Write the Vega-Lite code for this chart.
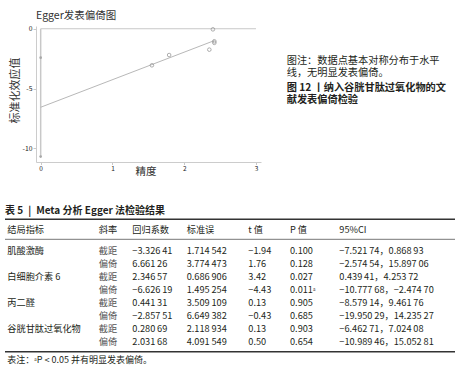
{
  "$schema": "https://vega.github.io/schema/vega-lite/v6.json",
  "width": 460,
  "height": 374,
  "padding": 0,
  "autosize": {"type": "none"},
  "background": "white",
  "config": {"view": {"stroke": null}, "font": "Noto Sans CJK SC", "text": {"font": "Noto Sans CJK SC"}},
  "layer": [
    {
      "encoding": {
        "x": {"field": "x", "type": "quantitative",
          "scale": {"domain": [-0.065, 3.07], "range": [36, 261], "nice": false, "zero": false},
          "axis": {"orient": "bottom", "offset": -212, "values": [0, 1, 2, 3], "grid": false,
            "domainColor": "#cccccc", "domainWidth": 1, "tickColor": "#bbbbbb", "tickSize": 2.5, "tickWidth": 0.8,
            "labelFontSize": 6.5, "labelColor": "#222222", "labelPadding": 0.5, "labelExpr": "'' + datum.value",
            "title": "精度", "titleFontSize": 10.5, "titleFontWeight": "normal", "titleColor": "#333333",
            "titleX": 145.5, "titleY": 9.7, "titleBaseline": "middle", "titleAlign": "center"}},
        "y": {"field": "y", "type": "quantitative",
          "scale": {"domain": [-11.15, 0.23], "range": [162, 26], "nice": false, "zero": false},
          "axis": {"orient": "left", "offset": -36, "values": [0, -5, -10], "grid": false, "labelOverlap": false, "labelBound": false,
            "domainColor": "#cccccc", "domainWidth": 1, "tickColor": "#bbbbbb", "tickSize": 3, "tickWidth": 0.8,
            "labelFontSize": 6.8, "labelColor": "#222222", "labelPadding": 1, "labelExpr": "'' + datum.value",
            "title": "标准化效应值", "titleFontSize": 11, "titleFontWeight": "normal", "titleColor": "#333333",
            "titleAngle": -90, "titleX": -20.5, "titleY": 90, "titleBaseline": "middle", "titleAlign": "center"}}
      },
      "layer": [
        {
          "data": {"values": [{"x": 0, "x2": 3, "y": 0}]},
          "mark": {"type": "rule", "color": "#c8c8c8", "strokeWidth": 1},
          "encoding": {"x2": {"field": "x2"}}
        },
        {
          "data": {"values": [{"x": 0, "y": -10.7, "y2": 0}]},
          "mark": {"type": "rule", "color": "#c8c8c8", "strokeWidth": 1.5},
          "encoding": {"y2": {"field": "y2"}}
        },
        {
          "data": {"values": [{"x": 0, "y": -2.42}, {"x": 0, "y": -10.7}]},
          "mark": {"type": "point", "filled": true, "size": 7, "color": "#a8a8a8", "opacity": 1},
          "encoding": {}
        },
        {
          "data": {"values": [{"x": 0, "y": -6.57}, {"x": 2.42, "y": -0.99}]},
          "mark": {"type": "line", "color": "#b8b8b8", "strokeWidth": 1},
          "encoding": {}
        },
        {
          "data": {"values": [
            {"x": 2.40, "y": -0.05},
            {"x": 2.42, "y": -1.05},
            {"x": 2.42, "y": -1.18},
            {"x": 2.35, "y": -1.75},
            {"x": 1.79, "y": -2.2},
            {"x": 1.55, "y": -3.06}
          ]},
          "mark": {"type": "point", "filled": false, "size": 13, "color": "#999999", "strokeWidth": 0.8, "opacity": 1},
          "encoding": {}
        }
      ]
    },
    {
      "data": {"values": [
        {"line": 0, "col": 0, "t": "Egger发表偏倚图"},
        {"line": 1, "col": 1, "t": "图注：数据点基本对称分布于水平"},
        {"line": 2, "col": 1, "t": "线，无明显发表偏倚。"},
        {"line": 3, "col": 1, "t": "图 12 丨纳入谷胱甘肽过氧化物的文"},
        {"line": 4, "col": 1, "t": "献发表偏倚检验"}
      ]},
      "encoding": {
        "x": {"field": "col", "type": "quantitative", "scale": {"domain": [0, 1], "range": [36, 286.7], "nice": false, "zero": false}, "axis": null},
        "y": {"field": "line", "type": "quantitative", "scale": {"domain": [0, 1, 2, 3, 4], "range": [16, 60.7, 73.3, 87.7, 100.3], "nice": false, "zero": false}, "axis": null},
        "text": {"field": "t"}
      },
      "layer": [
        {"transform": [{"filter": "datum.line == 0"}],
         "mark": {"type": "text", "align": "left", "baseline": "middle", "fontSize": 10.5, "color": "#333333"}},
        {"transform": [{"filter": "datum.line == 1 || datum.line == 2"}],
         "mark": {"type": "text", "align": "left", "baseline": "middle", "fontSize": 10.2, "color": "#231f20"}},
        {"transform": [{"filter": "datum.line >= 3"}],
         "mark": {"type": "text", "align": "left", "baseline": "middle", "fontSize": 10.2, "fontWeight": "bold", "color": "#231f20"}}
      ]
    },
    {
      "encoding": {
        "x": {"field": "c", "type": "quantitative", "scale": {"domain": [-1, 0, 1, 2, 3, 4, 5, 6, 7], "range": [5, 7.3, 98.7, 132.3, 186.7, 248.3, 290, 339.3, 455], "nice": false, "zero": false}, "axis": null},
        "y": {"field": "r", "type": "quantitative", "scale": {"domain": [-1, -0.5, 0, 0.5, 1, 8, 8.5, 9], "range": [210.7, 219.3, 230, 239.3, 250.7, 342, 351.7, 360], "nice": false, "zero": false}, "axis": null}
      },
      "layer": [
        {
          "data": {"values": [{"r": -0.5, "c": -1, "c2": 7}, {"r": 8.5, "c": -1, "c2": 7}]},
          "mark": {"type": "rule", "color": "#333333", "strokeWidth": 1.6},
          "encoding": {"x2": {"field": "c2"}}
        },
        {
          "data": {"values": [{"r": 0.5, "c": -1, "c2": 7}]},
          "mark": {"type": "rule", "color": "#777777", "strokeWidth": 1},
          "encoding": {"x2": {"field": "c2"}}
        },
        {
          "data": {"values": [{"r": -1, "c": -1, "t": "表 5\u2002|\u2002Meta 分析 Egger 法检验结果"}]},
          "mark": {"type": "text", "align": "left", "baseline": "middle", "fontSize": 10, "fontWeight": "bold", "color": "#231f20"},
          "encoding": {"text": {"field": "t"}}
        },
        {
          "data": {"values": [{"r": 9, "c": 0, "t": "表注：ᵃP < 0.05 并有明显发表偏倚。"}]},
          "mark": {"type": "text", "align": "left", "baseline": "middle", "fontSize": 9, "color": "#231f20"},
          "encoding": {"text": {"field": "t"}}
        },
        {
          "data": {"name": "cells", "values": [
            {"r": 0, "c": 0, "t": "结局指标"}, {"r": 0, "c": 1, "t": "斜率"}, {"r": 0, "c": 2, "t": "回归系数"}, {"r": 0, "c": 3, "t": "标准误"}, {"r": 0, "c": 4, "t": "t 值"}, {"r": 0, "c": 5, "t": "P 值"}, {"r": 0, "c": 6, "t": "95%CI"},
            {"r": 1, "c": 0, "t": "肌酸激酶"}, {"r": 1, "c": 1, "t": "截距"}, {"r": 1, "c": 2, "t": "−3.326\u200941"}, {"r": 1, "c": 3, "t": "1.714\u2009542"}, {"r": 1, "c": 4, "t": "−1.94"}, {"r": 1, "c": 5, "t": "0.100"}, {"r": 1, "c": 6, "t": "−7.521\u200974，0.868\u200993"},
            {"r": 2, "c": 1, "t": "偏倚"}, {"r": 2, "c": 2, "t": "6.661\u200926"}, {"r": 2, "c": 3, "t": "3.774\u2009473"}, {"r": 2, "c": 4, "t": "1.76"}, {"r": 2, "c": 5, "t": "0.128"}, {"r": 2, "c": 6, "t": "−2.574\u200954，15.897\u200906"},
            {"r": 3, "c": 0, "t": "白细胞介素 6"}, {"r": 3, "c": 1, "t": "截距"}, {"r": 3, "c": 2, "t": "2.346\u200957"}, {"r": 3, "c": 3, "t": "0.686\u2009906"}, {"r": 3, "c": 4, "t": "3.42"}, {"r": 3, "c": 5, "t": "0.027"}, {"r": 3, "c": 6, "t": "0.439\u200941，4.253\u200972"},
            {"r": 4, "c": 1, "t": "偏倚"}, {"r": 4, "c": 2, "t": "−6.626\u200919"}, {"r": 4, "c": 3, "t": "1.495\u2009254"}, {"r": 4, "c": 4, "t": "−4.43"}, {"r": 4, "c": 5, "t": "0.011ᵃ"}, {"r": 4, "c": 6, "t": "−10.777\u200968，−2.474\u200970"},
            {"r": 5, "c": 0, "t": "丙二醛"}, {"r": 5, "c": 1, "t": "截距"}, {"r": 5, "c": 2, "t": "0.441\u200931"}, {"r": 5, "c": 3, "t": "3.509\u2009109"}, {"r": 5, "c": 4, "t": "0.13"}, {"r": 5, "c": 5, "t": "0.905"}, {"r": 5, "c": 6, "t": "−8.579\u200914，9.461\u200976"},
            {"r": 6, "c": 1, "t": "偏倚"}, {"r": 6, "c": 2, "t": "−2.857\u200951"}, {"r": 6, "c": 3, "t": "6.649\u2009382"}, {"r": 6, "c": 4, "t": "−0.43"}, {"r": 6, "c": 5, "t": "0.685"}, {"r": 6, "c": 6, "t": "−19.950\u200929，14.235\u200927"},
            {"r": 7, "c": 0, "t": "谷胱甘肽过氧化物"}, {"r": 7, "c": 1, "t": "截距"}, {"r": 7, "c": 2, "t": "0.280\u200969"}, {"r": 7, "c": 3, "t": "2.118\u2009934"}, {"r": 7, "c": 4, "t": "0.13"}, {"r": 7, "c": 5, "t": "0.903"}, {"r": 7, "c": 6, "t": "−6.462\u200971，7.024\u200908"},
            {"r": 8, "c": 1, "t": "偏倚"}, {"r": 8, "c": 2, "t": "2.031\u200968"}, {"r": 8, "c": 3, "t": "4.091\u2009549"}, {"r": 8, "c": 4, "t": "0.50"}, {"r": 8, "c": 5, "t": "0.654"}, {"r": 8, "c": 6, "t": "−10.989\u200946，15.052\u200981"}
          ]},
          "layer": [
            {"transform": [{"filter": "!(datum.c == 1 && datum.r > 0)"}],
             "mark": {"type": "text", "align": "left", "baseline": "middle", "fontSize": 9.2, "color": "#231f20"},
             "encoding": {"text": {"field": "t"}}},
            {"transform": [{"filter": "datum.c == 1 && datum.r > 0"}],
             "mark": {"type": "text", "align": "left", "baseline": "middle", "fontSize": 9.2, "color": "#555555"},
             "encoding": {"text": {"field": "t"}}}
          ]
        }
      ]
    }
  ],
  "resolve": {"scale": {"x": "independent", "y": "independent"}}
}
